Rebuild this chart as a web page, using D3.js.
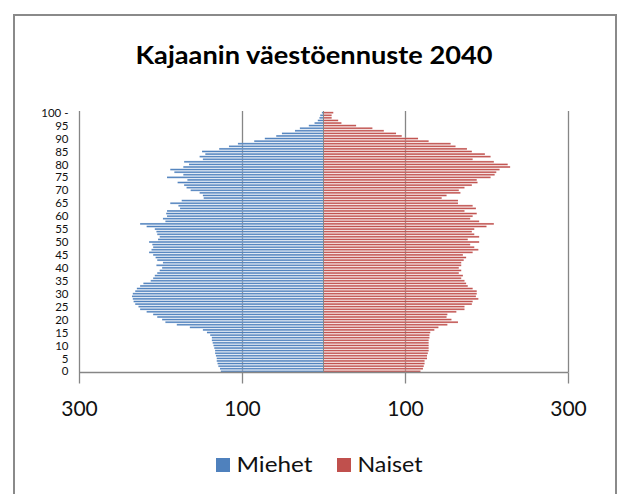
<!DOCTYPE html>
<html><head><meta charset="utf-8">
<script src="https://cdn.jsdelivr.net/npm/d3@7"></script>
<style>body{margin:0;background:#fff}svg{display:block}</style>
</head><body>
<svg id="c" width="618" height="494"></svg>
<script>
// ages 0..100 (index = age)
const ages = d3.range(0, 101);
const ageLabels = ["0","5","10","15","20","25","30","35","40","45","50","55","60","65","70","75","80","85","90","95","100 -"];
const miehet = [126,127,129,130,131,131,132,133,133,134,135,136,137,137,139,143,148,164,180,194,
  198,204,209,217,225,227,231,233,234,235,234,231,229,225,221,212,209,207,204,201,
  198,205,197,204,206,209,214,211,209,210,214,203,201,204,205,207,217,225,194,197,
  192,193,192,176,178,188,174,147,148,152,163,168,171,179,167,192,172,183,188,172,
  165,171,148,152,145,149,128,116,105,85,72,58,51,35,29,18,11,7,5,4,2];
const naiset = [119,122,123,124,124,127,127,128,129,129,129,129,129,130,130,131,136,141,152,165,
  157,151,152,163,173,173,182,183,190,187,188,188,183,177,175,173,169,171,166,169,
  166,169,169,172,175,171,183,190,185,180,191,177,191,185,182,185,200,209,191,180,
  183,188,173,187,183,165,165,145,151,168,166,173,182,189,188,205,210,212,216,229,
  226,209,183,205,198,182,176,162,156,129,116,96,89,74,60,40,22,18,10,10,12];
const xTicks = [-300,-100,100,300];
const seriesNames = ["Miehet","Naiset"];
const colors = ["#4F81BD","#C0504D"];

const svg = d3.select("#c");
const font = "Lato, 'Open Sans', sans-serif";
svg.append("rect").attr("x",0).attr("y",0).attr("width",618).attr("height",494).attr("fill","#fff");
svg.append("rect").attr("x",14).attr("y",15).attr("width",602).attr("height",490)
  .attr("fill","none").attr("stroke","#8a8a8a").attr("stroke-width",2);

const x = d3.scaleLinear().domain([-300,300]).range([79,568]);
const y = d3.scaleBand().domain(ages.slice().reverse()).range([111.5,372.5]).paddingInner(0.28).paddingOuter(0.1);

// title
svg.append("text").attr("x",314).attr("y",64).attr("text-anchor","middle")
  .attr("font-family",font).attr("font-weight","bold").attr("font-size",25)
  .attr("textLength",357).attr("lengthAdjust","spacingAndGlyphs")
  .text("Kajaanin väestöennuste 2040");

// gridlines
svg.append("g").selectAll("line").data(xTicks).join("line")
  .attr("x1",d=>Math.round(x(d))+0.5).attr("x2",d=>Math.round(x(d))+0.5)
  .attr("y1",111).attr("y2",372.5).attr("stroke","#868686").attr("stroke-width",1.3);

// defs gradients
const defs = svg.append("defs");
colors.forEach((c,i)=>{
  const g = defs.append("linearGradient").attr("id","g"+i).attr("x1",0).attr("x2",0).attr("y1",0).attr("y2",1);
  const lc = d3.interpolateRgb(c,"#fff")(0.35);
  g.append("stop").attr("offset","0%").attr("stop-color",lc);
  g.append("stop").attr("offset","50%").attr("stop-color",c);
  g.append("stop").attr("offset","100%").attr("stop-color",lc);
});

// bars
svg.append("g").selectAll("rect").data(ages).join("rect")
  .attr("x",a=>x(-miehet[a])).attr("width",a=>x(0)-x(-miehet[a]))
  .attr("y",a=>y(a)).attr("height",y.bandwidth()).attr("fill","url(#g0)");
svg.append("g").selectAll("rect").data(ages).join("rect")
  .attr("x",x(0)).attr("width",a=>x(naiset[a])-x(0))
  .attr("y",a=>y(a)).attr("height",y.bandwidth()).attr("fill","url(#g1)");

// vertical axis line at 0
svg.append("line").attr("x1",x(0)).attr("x2",x(0)).attr("y1",111).attr("y2",372.5)
  .attr("stroke","#868686").attr("stroke-width",1);

// x axis
const xAxis = d3.axisBottom(x).tickValues(xTicks).tickSize(11).tickFormat(d=>Math.abs(d));
const gx = svg.append("g").attr("transform","translate(0,372.5)").call(xAxis);
gx.select(".domain").attr("d","M79,0H568").attr("stroke","#868686").attr("stroke-width",1.3);
gx.selectAll(".tick line").attr("stroke","#868686").attr("stroke-width",1.3);
gx.selectAll(".tick text").attr("font-family",font).attr("font-size",21).attr("fill","#111").attr("dy",0).attr("y",43);

// y labels
svg.append("g").selectAll("text").data(ageLabels).join("text")
  .attr("x",68.5).attr("y",(d,i)=>y(i*5)+y.bandwidth()/2)
  .attr("dy","0.36em").attr("text-anchor","end")
  .attr("font-family",font).attr("font-size",11.5).attr("fill","#111")
  .text(d=>d);

// legend
const leg = svg.append("g");
const legX = [216, 337];
const legW = [76, 65];
seriesNames.forEach((n,i)=>{
  leg.append("rect").attr("x",legX[i]).attr("y",458).attr("width",14).attr("height",14).attr("fill",colors[i]);
  leg.append("text").attr("x",legX[i]+20.5).attr("y",472).attr("font-family",font).attr("font-size",22)
    .attr("textLength",legW[i]).attr("lengthAdjust","spacingAndGlyphs")
    .attr("fill","#111").text(n);
});
</script>
</body></html>
